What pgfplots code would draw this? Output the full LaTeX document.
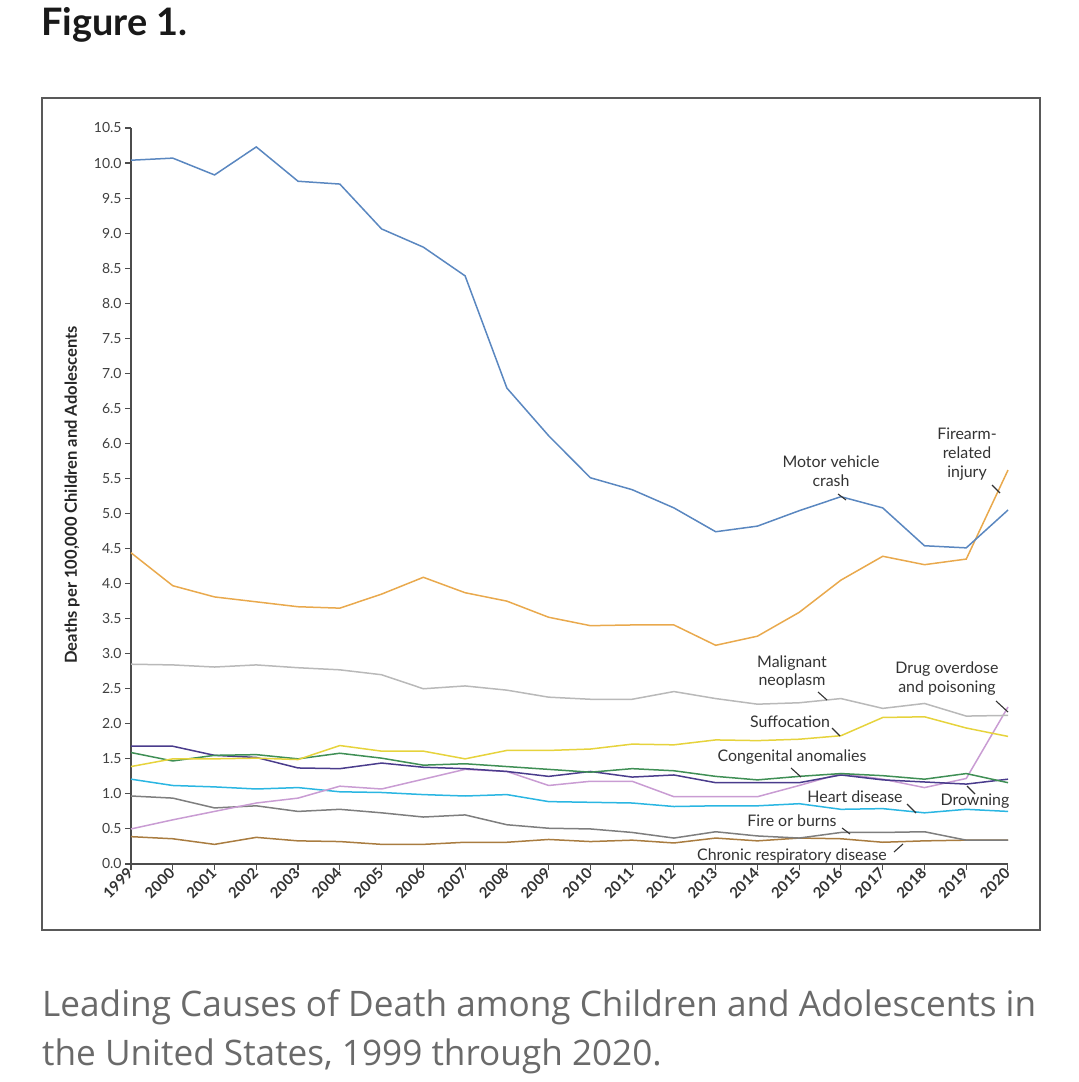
\documentclass[border=0pt]{standalone}
\usepackage{pgfplots}
\pgfplotsset{compat=1.18}
\usepackage{pgfplotstable}
\usepackage{fontspec}
\setmainfont{Lato}
\newfontfamily\capfont{Open Sans}
\definecolor{cBlue}{HTML}{5A87C0}
\definecolor{cOrange}{HTML}{E9A94D}
\definecolor{cLGray}{HTML}{B9B9B9}
\definecolor{cYellow}{HTML}{E6D33C}
\definecolor{cGreen}{HTML}{3F8F55}
\definecolor{cPurple}{HTML}{4A3C8C}
\definecolor{cPink}{HTML}{C99CD3}
\definecolor{cCyan}{HTML}{2AB6E2}
\definecolor{cDGray}{HTML}{7E7E7E}
\definecolor{cBrown}{HTML}{A97C40}
\definecolor{cText}{HTML}{333333}
\definecolor{cCap}{HTML}{6A6A6A}
\pgfplotstableread{
year mvc firearm neo suff cong drown drug heart burns chronic
1999 10.04 4.44 2.85 1.39 1.59 1.68 0.50 1.21 0.97 0.39
2000 10.07 3.97 2.84 1.50 1.47 1.68 0.63 1.12 0.94 0.36
2001 9.83 3.81 2.81 1.50 1.55 1.55 0.75 1.10 0.80 0.28
2002 10.23 3.74 2.84 1.51 1.56 1.52 0.87 1.07 0.83 0.38
2003 9.74 3.67 2.80 1.49 1.50 1.37 0.94 1.09 0.75 0.33
2004 9.70 3.65 2.77 1.69 1.58 1.36 1.11 1.03 0.78 0.32
2005 9.06 3.85 2.70 1.61 1.51 1.44 1.07 1.02 0.73 0.28
2006 8.80 4.09 2.50 1.61 1.41 1.38 1.21 0.99 0.67 0.28
2007 8.39 3.87 2.54 1.50 1.43 1.36 1.35 0.97 0.70 0.31
2008 6.79 3.75 2.48 1.62 1.39 1.32 1.32 0.99 0.56 0.31
2009 6.11 3.52 2.38 1.62 1.35 1.25 1.12 0.89 0.51 0.35
2010 5.51 3.40 2.35 1.64 1.31 1.32 1.18 0.88 0.50 0.32
2011 5.34 3.41 2.35 1.71 1.36 1.24 1.18 0.87 0.45 0.34
2012 5.08 3.41 2.46 1.70 1.33 1.27 0.96 0.82 0.37 0.30
2013 4.74 3.12 2.36 1.77 1.25 1.16 0.96 0.83 0.46 0.37
2014 4.82 3.25 2.28 1.76 1.20 1.16 0.96 0.83 0.40 0.33
2015 5.04 3.59 2.30 1.78 1.25 1.16 1.12 0.86 0.37 0.37
2016 5.24 4.05 2.36 1.83 1.29 1.27 1.29 0.78 0.45 0.36
2017 5.08 4.39 2.22 2.09 1.26 1.20 1.21 0.79 0.45 0.31
2018 4.54 4.27 2.29 2.10 1.21 1.17 1.09 0.73 0.46 0.33
2019 4.51 4.35 2.11 1.94 1.29 1.14 1.22 0.78 0.34 0.34
2020 5.05 5.62 2.12 1.82 1.16 1.21 2.24 0.75 0.34 0.34
}\data
\begin{document}
\begin{tikzpicture}[x=1bp,y=1bp]
\path[use as bounding box] (0,0) rectangle (1079,1082);
% title
\node[anchor=base west, inner sep=0pt, font=\fontsize{38}{44}\selectfont\bfseries, text=black!90] at (41,1082-36) {Figure 1.};
% frame
\draw[line width=1.4bp, draw=black!65] (42,1082-98) rectangle (1040,1082-930);
\begin{axis}[
  at={(131bp,218bp)}, anchor=south west,
  scale only axis, width=877bp, height=736bp,
  xmin=1999, xmax=2020, ymin=0, ymax=10.5,
  enlargelimits=false, clip=false,
  axis x line*=bottom, axis y line*=left,
  axis line style={draw=black!70, line width=1.3bp},
  every tick/.style={draw=black!70, line width=1.1bp},
  tick align=outside, major tick length=6bp,
  xtick={1999,...,2020},
  ytick={0,0.5,...,10.5},
  /pgf/number format/assume math mode=true,
  xticklabel style={/pgf/number format/1000 sep={}, rotate=45, anchor=east, font=\fontsize{15}{17}\selectfont\bfseries, text=cText, inner sep=1pt},
  yticklabel style={/pgf/number format/.cd, fixed, fixed zerofill, precision=1, /tikz/.cd, font=\fontsize{14}{16}\selectfont, text=black!75},
  every axis plot/.append style={line width=1.5bp, mark=none},
]
\addplot[cBrown] table[x=year,y=chronic]{\data};
\addplot[cDGray] table[x=year,y=burns]{\data};
\addplot[cCyan] table[x=year,y=heart]{\data};
\addplot[cPink] table[x=year,y=drug]{\data};
\addplot[cPurple] table[x=year,y=drown]{\data};
\addplot[cGreen] table[x=year,y=cong]{\data};
\addplot[cYellow] table[x=year,y=suff]{\data};
\addplot[cLGray] table[x=year,y=neo]{\data};
\addplot[cOrange] table[x=year,y=firearm]{\data};
\addplot[cBlue] table[x=year,y=mvc]{\data};
\end{axis}
% y label
\node[rotate=90, font=\fontsize{16.6}{18}\selectfont\bfseries, text=black!85] at (72,1082-495) {Deaths per 100,000 Children and Adolescents};
% annotations
\begin{scope}[every node/.style={font=\fontsize{16}{19}\selectfont, text=cText, align=center, inner sep=0pt}]
\node at (831,1082-471) {Motor vehicle\\crash};
\node at (967,1082-454) {Firearm-\\related\\injury};
\node at (792,1082-672) {Malignant\\neoplasm};
\node at (947,1082-679) {Drug overdose\\and poisoning};
\node at (790,1082-722) {Suffocation};
\node at (792,1082-757) {Congenital anomalies};
\node at (855,1082-797) {Heart disease};
\node at (975,1082-801) {Drowning};
\node at (792,1082-821) {Fire or burns};
\node at (792,1082-856) {Chronic respiratory disease};
\end{scope}
\begin{scope}[draw=black!80, line width=1.1bp]
\draw (838,1082-494) -- (846,1082-500);
\draw (992,1082-485) -- (1000,1082-493);
\draw (818,1082-692) -- (827,1082-700);
\draw (996,1082-701) -- (1008,1082-712);
\draw (832,1082-728) -- (840,1082-736);
\draw (791,1082-768) -- (801,1082-777);
\draw (907,1082-804) -- (916,1082-813);
\draw (975,1082-794) -- (967,1082-786);
\draw (842,1082-828) -- (850,1082-834);
\draw (894,1082-852) -- (903,1082-844);
\end{scope}
% caption
\node[anchor=base west, inner sep=0pt, font=\capfont\fontsize{35.3}{40}\selectfont, text=cCap] at (42,1082-1017) {Leading Causes of Death among Children and Adolescents in};
\node[anchor=base west, inner sep=0pt, font=\capfont\fontsize{35.3}{40}\selectfont, text=cCap] at (42,1082-1066) {the United States, 1999 through 2020.};
\end{tikzpicture}
\end{document}
